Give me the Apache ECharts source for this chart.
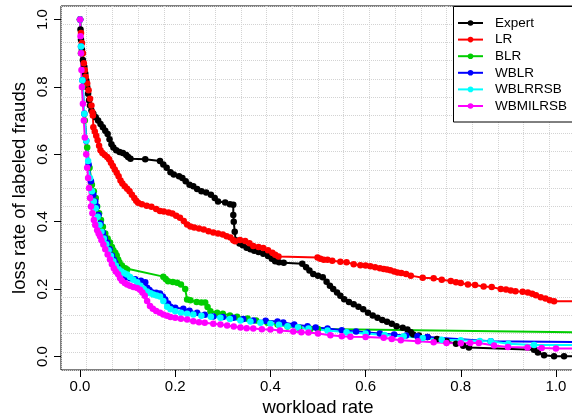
<!DOCTYPE html>
<html>
<head>
<meta charset="utf-8">
<script src="https://cdn.jsdelivr.net/npm/echarts@6/dist/echarts.min.js"></script>
<style>
  html, body { margin: 0; padding: 0; background: #fff; }
  #chart { width: 572px; height: 418px; }
</style>
</head>
<body>
<div id="chart"></div>
<script>
// series names and colours, in drawing order
const names = ['Expert', 'LR', 'BLR', 'WBLR', 'WBLRRSB', 'WBMILRSB']
const colors = ['#000000', '#ff0000', '#00cd00', '#0000ff', '#00ffff', '#ff00ff']
const tickValues = [0, 0.2, 0.4, 0.6, 0.8, 1.0]

// [workload rate, loss rate]
const expert = [[0,1.0],[0.001,0.97],[0.002,0.94],[0.004,0.91],[0.006,0.88],[0.009,0.86],[0.011,0.84],[0.013,0.82],[0.015,0.80],[0.017,0.78],[0.019,0.76],[0.021,0.745],[0.024,0.73],[0.028,0.72],[0.033,0.71],[0.038,0.70],[0.043,0.69],[0.048,0.68],[0.053,0.67],[0.058,0.66],[0.062,0.645],[0.066,0.63],[0.07,0.62],[0.076,0.612],[0.083,0.607],[0.09,0.604],[0.097,0.598],[0.101,0.592],[0.106,0.587],[0.137,0.585],[0.168,0.58],[0.175,0.57],[0.182,0.56],[0.19,0.547],[0.197,0.54],[0.208,0.535],[0.215,0.53],[0.222,0.52],[0.23,0.51],[0.238,0.505],[0.246,0.497],[0.255,0.49],[0.265,0.487],[0.275,0.48],[0.283,0.47],[0.29,0.46],[0.305,0.457],[0.315,0.452],[0.322,0.45],[0.322,0.42],[0.323,0.40],[0.325,0.37],[0.327,0.345],[0.335,0.335],[0.342,0.33],[0.35,0.323],[0.358,0.318],[0.366,0.314],[0.375,0.31],[0.385,0.305],[0.395,0.298],[0.403,0.29],[0.41,0.283],[0.418,0.28],[0.428,0.278],[0.467,0.275],[0.475,0.265],[0.482,0.255],[0.49,0.245],[0.5,0.24],[0.51,0.235],[0.518,0.222],[0.525,0.21],[0.532,0.2],[0.54,0.19],[0.547,0.18],[0.555,0.17],[0.565,0.162],[0.575,0.155],[0.585,0.148],[0.595,0.14],[0.605,0.13],[0.615,0.122],[0.625,0.115],[0.635,0.108],[0.645,0.103],[0.655,0.097],[0.665,0.09],[0.678,0.085],[0.688,0.08],[0.695,0.072],[0.7,0.065],[0.712,0.062],[0.73,0.058],[0.75,0.052],[0.77,0.045],[0.79,0.038],[0.805,0.032],[0.817,0.027],[0.954,0.02],[0.962,0.012],[0.975,0.004],[0.996,0.001],[1.017,0.001],[1.1,0.001]]

const lr = [[0,1.0],[0.002,0.96],[0.004,0.93],[0.006,0.9],[0.008,0.87],[0.01,0.85],[0.012,0.83],[0.015,0.81],[0.018,0.79],[0.021,0.765],[0.024,0.745],[0.026,0.725],[0.027,0.715],[0.028,0.68],[0.031,0.668],[0.034,0.655],[0.037,0.642],[0.04,0.625],[0.043,0.612],[0.047,0.604],[0.052,0.598],[0.057,0.592],[0.061,0.585],[0.065,0.575],[0.069,0.565],[0.073,0.555],[0.077,0.545],[0.081,0.535],[0.085,0.522],[0.089,0.513],[0.094,0.505],[0.099,0.498],[0.104,0.49],[0.109,0.48],[0.114,0.47],[0.118,0.462],[0.122,0.456],[0.13,0.452],[0.14,0.447],[0.15,0.444],[0.16,0.438],[0.168,0.432],[0.176,0.43],[0.186,0.427],[0.194,0.424],[0.202,0.418],[0.21,0.412],[0.218,0.402],[0.225,0.392],[0.232,0.386],[0.24,0.383],[0.25,0.38],[0.26,0.377],[0.27,0.372],[0.28,0.368],[0.29,0.365],[0.3,0.362],[0.308,0.357],[0.316,0.353],[0.322,0.345],[0.326,0.342],[0.336,0.346],[0.347,0.343],[0.356,0.336],[0.364,0.328],[0.375,0.325],[0.385,0.322],[0.395,0.315],[0.404,0.308],[0.41,0.302],[0.417,0.297],[0.499,0.294],[0.505,0.29],[0.512,0.287],[0.52,0.287],[0.53,0.284],[0.547,0.281],[0.56,0.28],[0.575,0.274],[0.589,0.271],[0.6,0.27],[0.61,0.268],[0.62,0.265],[0.63,0.262],[0.638,0.26],[0.645,0.258],[0.652,0.256],[0.66,0.252],[0.667,0.249],[0.675,0.248],[0.685,0.245],[0.695,0.24],[0.72,0.234],[0.743,0.232],[0.76,0.228],[0.779,0.224],[0.79,0.22],[0.8,0.218],[0.815,0.214],[0.83,0.212],[0.848,0.208],[0.865,0.206],[0.884,0.2],[0.895,0.199],[0.905,0.196],[0.915,0.194],[0.93,0.192],[0.941,0.19],[0.95,0.186],[0.958,0.182],[0.968,0.176],[0.978,0.172],[0.987,0.167],[0.996,0.164],[1.1,0.164]]

const blr = [[0,1.0],[0.002,0.9],[0.005,0.8],[0.01,0.7],[0.015,0.62],[0.02,0.56],[0.025,0.51],[0.029,0.49],[0.033,0.47],[0.036,0.445],[0.04,0.425],[0.044,0.405],[0.048,0.385],[0.053,0.365],[0.058,0.35],[0.063,0.338],[0.067,0.325],[0.07,0.315],[0.074,0.308],[0.077,0.3],[0.08,0.288],[0.083,0.279],[0.088,0.27],[0.095,0.262],[0.099,0.258],[0.175,0.237],[0.18,0.23],[0.185,0.223],[0.195,0.221],[0.204,0.219],[0.212,0.214],[0.221,0.2],[0.225,0.169],[0.232,0.167],[0.245,0.162],[0.255,0.16],[0.263,0.16],[0.268,0.147],[0.274,0.134],[0.288,0.13],[0.3,0.127],[0.315,0.122],[0.33,0.118],[0.352,0.113],[0.37,0.107],[0.394,0.1],[0.415,0.095],[0.436,0.089],[0.46,0.085],[0.484,0.082],[0.5,0.082],[1.1,0.071]]

const wblr = [[0,1.0],[0.002,0.92],[0.005,0.82],[0.009,0.72],[0.013,0.64],[0.018,0.57],[0.023,0.52],[0.028,0.48],[0.032,0.46],[0.035,0.445],[0.039,0.42],[0.043,0.395],[0.048,0.367],[0.052,0.352],[0.057,0.338],[0.062,0.318],[0.067,0.3],[0.071,0.287],[0.074,0.278],[0.078,0.266],[0.082,0.256],[0.086,0.247],[0.09,0.238],[0.095,0.235],[0.105,0.232],[0.116,0.229],[0.128,0.225],[0.137,0.22],[0.141,0.204],[0.146,0.197],[0.152,0.19],[0.16,0.189],[0.168,0.187],[0.174,0.178],[0.179,0.169],[0.185,0.157],[0.19,0.148],[0.2,0.145],[0.217,0.142],[0.23,0.136],[0.246,0.13],[0.262,0.124],[0.28,0.119],[0.3,0.117],[0.322,0.115],[0.343,0.111],[0.364,0.107],[0.39,0.106],[0.415,0.104],[0.427,0.101],[0.45,0.095],[0.478,0.09],[0.495,0.086],[0.52,0.083],[0.55,0.078],[0.58,0.074],[0.604,0.071],[0.63,0.068],[0.66,0.065],[0.685,0.062],[0.709,0.06],[0.73,0.058],[0.863,0.045],[1.1,0.042]]

const wblrrsb = [[0,1.0],[0.002,0.92],[0.005,0.82],[0.009,0.72],[0.013,0.64],[0.017,0.58],[0.021,0.53],[0.025,0.49],[0.029,0.46],[0.033,0.44],[0.037,0.415],[0.041,0.39],[0.045,0.37],[0.05,0.35],[0.055,0.333],[0.06,0.315],[0.065,0.298],[0.07,0.283],[0.075,0.27],[0.081,0.259],[0.087,0.252],[0.093,0.247],[0.099,0.243],[0.105,0.236],[0.112,0.228],[0.12,0.22],[0.127,0.21],[0.134,0.2],[0.141,0.193],[0.148,0.188],[0.154,0.184],[0.161,0.181],[0.168,0.178],[0.175,0.165],[0.183,0.148],[0.19,0.14],[0.2,0.134],[0.212,0.13],[0.225,0.127],[0.238,0.125],[0.255,0.121],[0.275,0.118],[0.295,0.115],[0.315,0.111],[0.337,0.107],[0.358,0.104],[0.379,0.1],[0.4,0.097],[0.418,0.094],[0.436,0.09],[0.458,0.087],[0.48,0.083],[0.52,0.077],[0.56,0.072],[0.6,0.068],[0.64,0.064],[0.68,0.06],[0.72,0.055],[0.76,0.05],[0.8,0.048],[0.84,0.046],[0.863,0.045],[0.9,0.038],[0.954,0.034],[1.1,0.034]]

const wbmilrsb = [[0,1.0],[0.001,0.95],[0.002,0.9],[0.003,0.85],[0.004,0.8],[0.006,0.75],[0.008,0.7],[0.01,0.65],[0.013,0.6],[0.015,0.56],[0.017,0.53],[0.019,0.5],[0.021,0.47],[0.023,0.445],[0.026,0.425],[0.029,0.405],[0.032,0.39],[0.036,0.375],[0.039,0.365],[0.042,0.357],[0.045,0.345],[0.049,0.332],[0.053,0.318],[0.058,0.303],[0.063,0.288],[0.067,0.274],[0.071,0.262],[0.075,0.252],[0.08,0.244],[0.084,0.233],[0.088,0.225],[0.094,0.218],[0.099,0.214],[0.105,0.21],[0.112,0.206],[0.12,0.203],[0.126,0.198],[0.131,0.19],[0.136,0.18],[0.141,0.165],[0.147,0.15],[0.153,0.142],[0.16,0.135],[0.168,0.13],[0.175,0.125],[0.183,0.121],[0.19,0.117],[0.2,0.115],[0.212,0.112],[0.225,0.11],[0.238,0.105],[0.25,0.102],[0.262,0.1],[0.28,0.097],[0.295,0.095],[0.309,0.092],[0.323,0.089],[0.337,0.086],[0.35,0.084],[0.364,0.083],[0.382,0.081],[0.4,0.08],[0.42,0.077],[0.448,0.074],[0.465,0.072],[0.48,0.071],[0.5,0.068],[0.526,0.063],[0.55,0.06],[0.568,0.059],[0.6,0.058],[0.638,0.056],[0.655,0.052],[0.674,0.048],[0.71,0.045],[0.743,0.042],[0.77,0.04],[0.8,0.039],[0.82,0.04],[0.838,0.04],[0.87,0.033],[0.899,0.028],[0.94,0.027],[0.97,0.025],[1.0,0.024],[1.1,0.024]]

const seriesData = [expert, lr, blr, wblr, wblrrsb, wbmilrsb]

const font = 'Liberation Sans'
const chart = echarts.init(document.getElementById('chart'))

const option = {
    animation: false,
    backgroundColor: '#fff',
    textStyle: { fontFamily: font, color: '#000' },
    grid: {
        left: 61, top: 6, width: 514, height: 364,
        outerBoundsMode: 'none', containLabel: false,
        show: true, borderColor: '#000', borderWidth: 1, backgroundColor: 'transparent'
    },
    xAxis: [{
        type: 'value', min: -0.04, max: 1.04,
        name: 'workload rate', nameLocation: 'middle', nameGap: 28, nameMoveOverlap: false,
        nameTextStyle: { fontSize: 18.5, color: '#000', fontFamily: font, verticalAlign: 'top' },
        axisLine: { show: false, onZero: false },
        axisTick: { show: true, inside: false, length: 7, lineStyle: { color: '#000' }, customValues: tickValues },
        axisLabel: {
            fontSize: 15, color: '#000', fontFamily: font, margin: 9,
            customValues: tickValues, formatter: v => v.toFixed(1)
        },
        splitLine: { show: false }
    }, {
        // dotted background grid, 20 equal parts of the plot region
        type: 'value', min: 0, max: 20, interval: 1, position: 'bottom',
        axisLine: { show: false, onZero: false }, axisTick: { show: false }, axisLabel: { show: false },
        splitLine: { show: true, lineStyle: { color: '#d3d3d3', type: 'dotted', width: 1 } }
    }],
    yAxis: [{
        type: 'value', min: -0.04, max: 1.04,
        name: 'loss rate of labeled frauds', nameLocation: 'middle', nameGap: 32, nameMoveOverlap: false,
        nameTextStyle: { fontSize: 18.5, color: '#000', fontFamily: font },
        axisLine: { show: false, onZero: false },
        axisTick: { show: true, inside: false, length: 7, lineStyle: { color: '#000' }, customValues: tickValues },
        axisLabel: {
            fontSize: 15, color: '#000', fontFamily: font, margin: 11, rotate: 90,
            customValues: tickValues, formatter: v => v.toFixed(1)
        },
        splitLine: { show: false }
    }, {
        type: 'value', min: 0, max: 20, interval: 1, position: 'left',
        axisLine: { show: false, onZero: false }, axisTick: { show: false }, axisLabel: { show: false },
        splitLine: { show: true, lineStyle: { color: '#d3d3d3', type: 'dotted', width: 1 } }
    }],
    legend: {
        orient: 'vertical', left: 457, top: 14.7, z: 20,
        itemWidth: 25, itemHeight: 7, itemGap: 0, padding: 0,
        textStyle: { fontSize: 13.5, color: '#000', fontFamily: font, lineHeight: 16.6, padding: [0, 0, 0, 7] },
        data: names
    },
    graphic: [{
        type: 'rect', z: 10,
        shape: { x: 453.5, y: 6.5, width: 140, height: 115.5 },
        style: { fill: '#fff', stroke: '#000', lineWidth: 1 }
    }],
    series: names.map((name, i) => ({
        name: name,
        type: 'line',
        xAxisIndex: 0, yAxisIndex: 0,
        data: seriesData[i],
        symbol: 'circle', symbolSize: 6.5, showAllSymbol: true,
        clip: true,
        color: colors[i],
        lineStyle: { width: 2, color: colors[i] },
        itemStyle: { color: colors[i] }
    }))
}

chart.setOption(option)
</script>
</body>
</html>
